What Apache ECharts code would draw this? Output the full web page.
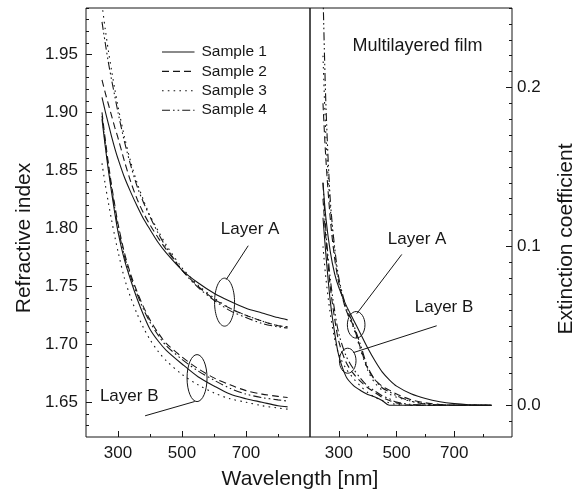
<!DOCTYPE html>
<html><head><meta charset="utf-8">
<script src="https://cdn.jsdelivr.net/npm/echarts@6/dist/echarts.min.js"></script>
<style>html,body{margin:0;padding:0;background:#fff}#c{width:580px;height:496px}</style>
</head><body><div id="c"></div>
<script>
// ---- data ----
const SAMPLES = ['Sample 1','Sample 2','Sample 3','Sample 4'];
const WL_N = [250,260,270,280,290,300,320,340,360,380,400,425,450,500,550,600,650,700,750,800,830];
const nA1 = [1.913,1.901,1.890,1.879,1.869,1.860,1.844,1.831,1.819,1.808,1.799,1.788,1.779,1.764,1.753,1.744,1.737,1.731,1.727,1.723,1.721];
const nA2 = [1.928,1.917,1.907,1.897,1.887,1.878,1.858,1.840,1.825,1.813,1.803,1.792,1.782,1.764,1.750,1.739,1.731,1.725,1.720,1.716,1.715];
const nA3 = [1.993,1.972,1.953,1.936,1.920,1.905,1.879,1.857,1.839,1.824,1.811,1.798,1.786,1.766,1.751,1.740,1.731,1.725,1.720,1.716,1.715];
const nA4 = [1.978,1.960,1.943,1.928,1.914,1.900,1.875,1.854,1.836,1.822,1.810,1.796,1.784,1.764,1.749,1.738,1.729,1.723,1.718,1.715,1.714];
const nB1 = [1.894,1.871,1.850,1.831,1.813,1.797,1.773,1.755,1.739,1.725,1.713,1.703,1.695,1.683,1.672,1.664,1.657,1.653,1.650,1.647,1.646];
const nB2 = [1.900,1.877,1.856,1.837,1.820,1.804,1.779,1.760,1.745,1.732,1.721,1.710,1.701,1.689,1.679,1.671,1.665,1.660,1.657,1.655,1.654];
const nB3 = [1.856,1.838,1.822,1.807,1.793,1.780,1.757,1.740,1.726,1.714,1.704,1.694,1.686,1.674,1.665,1.658,1.653,1.650,1.647,1.645,1.644];
const nB4 = [1.897,1.874,1.853,1.834,1.817,1.801,1.776,1.758,1.743,1.730,1.719,1.708,1.699,1.687,1.677,1.669,1.662,1.657,1.654,1.652,1.651];

const WL_K = [245,255,270,285,300,325,350,375,400,425,450,475,500,550,600,650,700,750,800,830];
const kA1 = [0.140,0.118,0.097,0.083,0.074,0.063,0.054,0.045,0.036,0.028,0.021,0.016,0.012,0.0072,0.0042,0.0022,0.0010,0.0003,0,0];
const kA2 = [0.190,0.155,0.118,0.093,0.077,0.060,0.050,0.036,0.023,0.016,0.012,0.0095,0.007,0.0035,0.0015,0.0005,0,0,0,0];
const kA3 = [0.220,0.170,0.125,0.097,0.078,0.060,0.049,0.035,0.022,0.014,0.0095,0.007,0.005,0.0025,0.001,0.0003,0,0,0,0];
const kA4 = [0.260,0.190,0.130,0.100,0.080,0.062,0.051,0.038,0.024,0.016,0.011,0.0084,0.006,0.0025,0.0008,0.0002,0,0,0,0];
const kB1 = [0.118,0.095,0.066,0.046,0.031,0.018,0.0125,0.0093,0.0068,0.0052,0.003,0,0,0,0,0,0,0,0,0];
const kB2 = [0.130,0.105,0.075,0.055,0.040,0.027,0.020,0.015,0.011,0.008,0.005,0.003,0.0015,0,0,0,0,0,0,0];
const kB3 = [0.100,0.080,0.058,0.042,0.032,0.023,0.017,0.012,0.008,0.005,0.003,0.0015,0.0005,0,0,0,0,0,0,0];
const kB4 = [0.140,0.110,0.080,0.060,0.045,0.031,0.023,0.017,0.012,0.009,0.006,0.004,0.002,0.0005,0,0,0,0,0,0];

const X_LABELS = [300,500,700];
const X_MINOR = [400,600,800];
const N_LABELS = [1.65,1.70,1.75,1.80,1.85,1.90,1.95];
const K_LABELS = [0.0,0.1,0.2];

// ---- style ----
const FONT = "'Liberation Sans', Arial, sans-serif";
const INK = '#161616';
const DASH = [[], [7,4], [1.6,4.2], [8,3,1.6,3,1.6,3]];

function minorList(lo, hi, step, majors){
  const out=[]; const n=Math.round((hi-lo)/step);
  for(let i=0;i<=n;i++){const v=+(lo+i*step).toFixed(4); if(!majors.some(m=>Math.abs(m-v)<1e-6)) out.push(v);}
  return out;
}
const N_MINOR = minorList(1.63,1.99,0.01,N_LABELS);
const K_MINOR = minorList(-0.01,0.25,0.01,K_LABELS);

const chart = echarts.init(document.getElementById('c'), null, {renderer:'canvas'});

function xAx(grid, major){
  return {type:'value', gridIndex:grid, min:200, max:900, position:'bottom',
    axisLine:{show:false, onZero:false}, splitLine:{show:false},
    axisTick: major ? {inside:true, length:6, customValues:X_LABELS, lineStyle:{color:INK}} :
                      {inside:true, length:3, customValues:X_MINOR, lineStyle:{color:INK}},
    axisLabel: major ? {customValues:X_LABELS, margin:8, fontSize:17, fontFamily:FONT, color:INK} : {show:false}};
}
function yAx(grid, min, max, pos, majors, minors, margin, fmt){
  return [
    {type:'value', gridIndex:grid, min:min, max:max, position:pos,
     axisLine:{show:false, onZero:false}, splitLine:{show:false},
     axisTick:{inside:true, length:6, customValues:majors, lineStyle:{color:INK}},
     axisLabel:{customValues:majors, margin:margin, fontSize:17, fontFamily:FONT, color:INK, formatter:fmt}},
    {type:'value', gridIndex:grid, min:min, max:max, position:pos,
     axisLine:{show:false, onZero:false}, splitLine:{show:false},
     axisTick:{inside:true, length:3, customValues:minors, lineStyle:{color:INK}},
     axisLabel:{show:false}}
  ];
}

function mk(name, wl, vals, si, xi, yi){
  return {type:'line', name:name, xAxisIndex:xi, yAxisIndex:yi, symbol:'none', smooth:0.3,
    data: wl.map((w,i)=>[w, vals[i]]), clip:true, silent:true,
    itemStyle:{color:INK},
    lineStyle:{color:INK, width:1.1, type: DASH[si].length? DASH[si] : 'solid'}};
}
const series = [];
[nA1,nA2,nA3,nA4].forEach((v,i)=>series.push(mk(SAMPLES[i], WL_N, v, i, 0, 0)));
[nB1,nB2,nB3,nB4].forEach((v,i)=>series.push(mk(SAMPLES[i], WL_N, v, i, 0, 0)));
[kA1,kA2,kA3,kA4].forEach((v,i)=>series.push(mk(SAMPLES[i], WL_K, v, i, 2, 2)));
[kB1,kB2,kB3,kB4].forEach((v,i)=>series.push(mk(SAMPLES[i], WL_K, v, i, 2, 2)));

chart.setOption({
  animation:false,
  backgroundColor:'#fff',
  textStyle:{fontFamily:FONT},
  grid:[
    {left:86, top:8, width:224, height:429, show:true, borderColor:INK, borderWidth:1, backgroundColor:'transparent'},
    {left:310, top:8, width:202, height:429, show:true, borderColor:INK, borderWidth:1, backgroundColor:'transparent'}
  ],
  xAxis:[xAx(0,true), xAx(0,false), xAx(1,true), xAx(1,false)],
  yAxis:[].concat(
    yAx(0, 1.62, 1.99, 'left', N_LABELS, N_MINOR, 8, v=>v.toFixed(2)),
    yAx(1, -0.02, 0.25, 'right', K_LABELS, K_MINOR, 5, v=>v.toFixed(1))
  ),
  series:series
});

// legend (drawn with the same line styles as the series)
const gfx = [];
SAMPLES.forEach((s,i)=>{
  const y = 52 + i*19.4;
  gfx.push({type:'line', shape:{x1:162, y1:y, x2:194.5, y2:y},
    style:{stroke:INK, lineWidth:1.1, lineDash: DASH[i].length? DASH[i] : null}, silent:true});
  gfx.push({type:'text', x:201.5, y:y, style:{text:s, fontSize:15.5, fontFamily:FONT, fill:INK, align:'left', verticalAlign:'middle'}, silent:true});
});

// annotations anchored in data space
function P(g, x, y){ return chart.convertToPixel({xAxisIndex: g?2:0, yAxisIndex: g?2:0}, [x,y]); }
const ANN = [
  {g:0, ell:[633,1.7363,10,24], line:[[638,1.7557],[707,1.785]], text:['Layer A',713,1.7989]},
  {g:0, ell:[547,1.6708,10,23.5], line:[[539.7,1.6506],[384.7,1.6383]], text:['Layer B',335,1.6547]},
  {g:1, ell:[360,0.0506,8.8,13.3], line:[[362,0.0576],[518,0.0949]], text:['Layer A',571,0.1044]},
  {g:1, ell:[330.7,0.028,8.3,12.5], line:[[350,0.0331],[639,0.050]], text:['Layer B',664.5,0.0617]}
];
ANN.forEach(a=>{
  const c = P(a.g, a.ell[0], a.ell[1]);
  gfx.push({type:'ellipse', shape:{cx:c[0], cy:c[1], rx:a.ell[2], ry:a.ell[3]}, style:{fill:null, stroke:INK, lineWidth:1}, silent:true});
  const p1 = P(a.g, a.line[0][0], a.line[0][1]), p2 = P(a.g, a.line[1][0], a.line[1][1]);
  gfx.push({type:'line', shape:{x1:p1[0], y1:p1[1], x2:p2[0], y2:p2[1]}, style:{stroke:INK, lineWidth:1}, silent:true});
  const t = P(a.g, a.text[1], a.text[2]);
  gfx.push({type:'text', x:t[0], y:t[1], style:{text:a.text[0], fontSize:17, fontFamily:FONT, fill:INK, align:'center', verticalAlign:'middle'}, silent:true});
});
const mf = P(1, 572.6, 0.226);
gfx.push({type:'text', x:mf[0], y:mf[1], style:{text:'Multilayered film', fontSize:18, fontFamily:FONT, fill:INK, align:'center', verticalAlign:'middle'}});
// axis titles
gfx.push({type:'text', x:24, y:238, rotation:Math.PI/2, style:{text:'Refractive index', fontSize:21, fontFamily:FONT, fill:INK, align:'center', verticalAlign:'middle'}});
gfx.push({type:'text', x:300, y:479, style:{text:'Wavelength [nm]', fontSize:21, fontFamily:FONT, fill:INK, align:'center', verticalAlign:'middle'}});
gfx.push({type:'text', x:566, y:239, rotation:Math.PI/2, style:{text:'Extinction coefficient', fontSize:21, fontFamily:FONT, fill:INK, align:'center', verticalAlign:'middle'}});
chart.setOption({graphic:gfx});
</script></body></html>
